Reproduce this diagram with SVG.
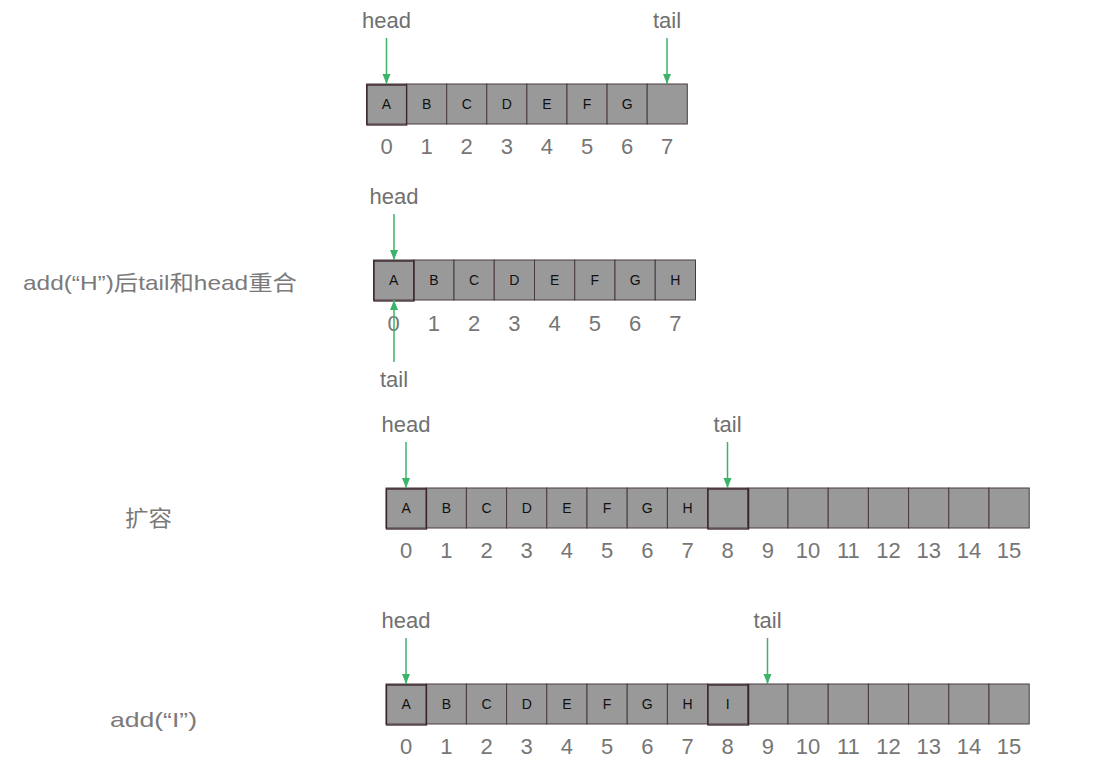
<svg xmlns="http://www.w3.org/2000/svg" width="1102" height="773" viewBox="0 0 1102 773">
<defs>
<style>
.cell{fill:#999999;stroke:#4a3a3e;stroke-width:1}
.hl{fill:none;stroke:#3a2428;stroke-width:1.3}
.ltr{font-family:"Liberation Sans",Arial,sans-serif;font-size:14px;fill:#111;text-anchor:middle}
.idx{font-family:"Liberation Sans",Arial,sans-serif;font-size:22px;fill:#767676;text-anchor:middle}
.ptr{font-family:"Liberation Sans",Arial,sans-serif;font-size:22px;fill:#707070;text-anchor:middle}
.lbl{font-family:"Liberation Sans","Noto Sans CJK SC",sans-serif;font-size:21px;fill:#7a7a7a}
.arr{stroke:#3cb36b;stroke-width:1.5;fill:none;marker-end:url(#ah)}
</style>
<marker id="ah" markerUnits="userSpaceOnUse" markerWidth="10" markerHeight="10" refX="10" refY="4" orient="auto">
<path d="M0,0 L10,4 L0,8 z" fill="#3cb36b"/>
</marker>
</defs>
<rect width="1102" height="773" fill="#ffffff"/>

<g id="row1">
<g id="row1-cells">
<rect class="cell" x="366.5" y="84" width="40.1" height="40"/>
<rect class="cell" x="406.6" y="84" width="40.1" height="40"/>
<rect class="cell" x="446.7" y="84" width="40.1" height="40"/>
<rect class="cell" x="486.8" y="84" width="40.1" height="40"/>
<rect class="cell" x="526.9" y="84" width="40.1" height="40"/>
<rect class="cell" x="567.0" y="84" width="40.1" height="40"/>
<rect class="cell" x="607.1" y="84" width="40.1" height="40"/>
<rect class="cell" x="647.2" y="84" width="40.1" height="40"/>
<rect class="hl" x="367" y="85" width="39.6" height="40"/>
</g>
<g id="row1-letters">
<text class="ltr" x="386.5" y="109">A</text>
<text class="ltr" x="426.6" y="109">B</text>
<text class="ltr" x="466.7" y="109">C</text>
<text class="ltr" x="506.8" y="109">D</text>
<text class="ltr" x="546.9" y="109">E</text>
<text class="ltr" x="587.0" y="109">F</text>
<text class="ltr" x="627.1" y="109">G</text>
</g>
<g id="row1-index">
<text class="idx" x="386.5" y="154">0</text>
<text class="idx" x="426.6" y="154">1</text>
<text class="idx" x="466.7" y="154">2</text>
<text class="idx" x="506.8" y="154">3</text>
<text class="idx" x="546.9" y="154">4</text>
<text class="idx" x="587.0" y="154">5</text>
<text class="idx" x="627.1" y="154">6</text>
<text class="idx" x="667.2" y="154">7</text>
</g>
<text id="row1-head" class="ptr" x="386.5" y="28">head</text>
<text id="row1-tail" class="ptr" x="667" y="28">tail</text>
</g>

<g id="row2">
<text id="row2-label" class="lbl" x="23" y="290" textLength="274" lengthAdjust="spacingAndGlyphs">add(“H”)后tail和head重合</text>
<g id="row2-cells">
<rect class="cell" x="373.5" y="260" width="40.25" height="40"/>
<rect class="cell" x="413.75" y="260" width="40.25" height="40"/>
<rect class="cell" x="454" y="260" width="40.25" height="40"/>
<rect class="cell" x="494.25" y="260" width="40.25" height="40"/>
<rect class="cell" x="534.5" y="260" width="40.25" height="40"/>
<rect class="cell" x="574.75" y="260" width="40.25" height="40"/>
<rect class="cell" x="615" y="260" width="40.25" height="40"/>
<rect class="cell" x="655.25" y="260" width="40.25" height="40"/>
<rect class="hl" x="374" y="261" width="40" height="40"/>
</g>
<g id="row2-letters">
<text class="ltr" x="393.6" y="285">A</text>
<text class="ltr" x="433.9" y="285">B</text>
<text class="ltr" x="474.1" y="285">C</text>
<text class="ltr" x="514.4" y="285">D</text>
<text class="ltr" x="554.6" y="285">E</text>
<text class="ltr" x="594.9" y="285">F</text>
<text class="ltr" x="635.1" y="285">G</text>
<text class="ltr" x="675.4" y="285">H</text>
</g>
<g id="row2-index">
<text class="idx" x="393.6" y="331">0</text>
<text class="idx" x="433.9" y="331">1</text>
<text class="idx" x="474.1" y="331">2</text>
<text class="idx" x="514.4" y="331">3</text>
<text class="idx" x="554.6" y="331">4</text>
<text class="idx" x="594.9" y="331">5</text>
<text class="idx" x="635.1" y="331">6</text>
<text class="idx" x="675.4" y="331">7</text>
</g>
<text id="row2-head" class="ptr" x="394" y="204">head</text>
<text id="row2-tail" class="ptr" x="394" y="387">tail</text>
</g>

<g id="row3">
<text id="row3-label" class="lbl" x="125" y="526" style="font-size:22px" textLength="47" lengthAdjust="spacingAndGlyphs">扩容</text>
<g id="row3-cells">
<rect class="cell" x="386" y="488" width="40.2" height="40"/>
<rect class="cell" x="426.2" y="488" width="40.2" height="40"/>
<rect class="cell" x="466.4" y="488" width="40.2" height="40"/>
<rect class="cell" x="506.6" y="488" width="40.2" height="40"/>
<rect class="cell" x="546.8" y="488" width="40.2" height="40"/>
<rect class="cell" x="587" y="488" width="40.2" height="40"/>
<rect class="cell" x="627.2" y="488" width="40.2" height="40"/>
<rect class="cell" x="667.4" y="488" width="40.2" height="40"/>
<rect class="cell" x="707.6" y="488" width="40.2" height="40"/>
<rect class="cell" x="747.8" y="488" width="40.2" height="40"/>
<rect class="cell" x="788" y="488" width="40.2" height="40"/>
<rect class="cell" x="828.2" y="488" width="40.2" height="40"/>
<rect class="cell" x="868.4" y="488" width="40.2" height="40"/>
<rect class="cell" x="908.6" y="488" width="40.2" height="40"/>
<rect class="cell" x="948.8" y="488" width="40.2" height="40"/>
<rect class="cell" x="989" y="488" width="40.2" height="40"/>
<rect class="hl" x="386.5" y="489" width="40" height="40"/>
<rect class="hl" x="708" y="489" width="40.6" height="40"/>
</g>
<g id="row3-letters">
<text class="ltr" x="406.1" y="513">A</text>
<text class="ltr" x="446.3" y="513">B</text>
<text class="ltr" x="486.5" y="513">C</text>
<text class="ltr" x="526.7" y="513">D</text>
<text class="ltr" x="566.9" y="513">E</text>
<text class="ltr" x="607.1" y="513">F</text>
<text class="ltr" x="647.3" y="513">G</text>
<text class="ltr" x="687.5" y="513">H</text>
</g>
<g id="row3-index">
<text class="idx" x="406.1" y="558">0</text>
<text class="idx" x="446.3" y="558">1</text>
<text class="idx" x="486.5" y="558">2</text>
<text class="idx" x="526.7" y="558">3</text>
<text class="idx" x="566.9" y="558">4</text>
<text class="idx" x="607.1" y="558">5</text>
<text class="idx" x="647.3" y="558">6</text>
<text class="idx" x="687.5" y="558">7</text>
<text class="idx" x="727.7" y="558">8</text>
<text class="idx" x="767.9" y="558">9</text>
<text class="idx" x="808.1" y="558">10</text>
<text class="idx" x="848.3" y="558">11</text>
<text class="idx" x="888.5" y="558">12</text>
<text class="idx" x="928.7" y="558">13</text>
<text class="idx" x="968.9" y="558">14</text>
<text class="idx" x="1009.1" y="558">15</text>
</g>
<text id="row3-head" class="ptr" x="406" y="432">head</text>
<text id="row3-tail" class="ptr" x="727.5" y="432">tail</text>
</g>

<g id="row4">
<text id="row4-label" class="lbl" x="110" y="727" textLength="87" lengthAdjust="spacingAndGlyphs">add(“I”)</text>
<g id="row4-cells">
<rect class="cell" x="386" y="684" width="40.2" height="40"/>
<rect class="cell" x="426.2" y="684" width="40.2" height="40"/>
<rect class="cell" x="466.4" y="684" width="40.2" height="40"/>
<rect class="cell" x="506.6" y="684" width="40.2" height="40"/>
<rect class="cell" x="546.8" y="684" width="40.2" height="40"/>
<rect class="cell" x="587" y="684" width="40.2" height="40"/>
<rect class="cell" x="627.2" y="684" width="40.2" height="40"/>
<rect class="cell" x="667.4" y="684" width="40.2" height="40"/>
<rect class="cell" x="707.6" y="684" width="40.2" height="40"/>
<rect class="cell" x="747.8" y="684" width="40.2" height="40"/>
<rect class="cell" x="788" y="684" width="40.2" height="40"/>
<rect class="cell" x="828.2" y="684" width="40.2" height="40"/>
<rect class="cell" x="868.4" y="684" width="40.2" height="40"/>
<rect class="cell" x="908.6" y="684" width="40.2" height="40"/>
<rect class="cell" x="948.8" y="684" width="40.2" height="40"/>
<rect class="cell" x="989" y="684" width="40.2" height="40"/>
<rect class="hl" x="386.5" y="685" width="40" height="40"/>
<rect class="hl" x="708" y="685" width="40.6" height="40"/>
</g>
<g id="row4-letters">
<text class="ltr" x="406.1" y="709">A</text>
<text class="ltr" x="446.3" y="709">B</text>
<text class="ltr" x="486.5" y="709">C</text>
<text class="ltr" x="526.7" y="709">D</text>
<text class="ltr" x="566.9" y="709">E</text>
<text class="ltr" x="607.1" y="709">F</text>
<text class="ltr" x="647.3" y="709">G</text>
<text class="ltr" x="687.5" y="709">H</text>
<text class="ltr" x="727.7" y="709">I</text>
</g>
<g id="row4-index">
<text class="idx" x="406.1" y="754">0</text>
<text class="idx" x="446.3" y="754">1</text>
<text class="idx" x="486.5" y="754">2</text>
<text class="idx" x="526.7" y="754">3</text>
<text class="idx" x="566.9" y="754">4</text>
<text class="idx" x="607.1" y="754">5</text>
<text class="idx" x="647.3" y="754">6</text>
<text class="idx" x="687.5" y="754">7</text>
<text class="idx" x="727.7" y="754">8</text>
<text class="idx" x="767.9" y="754">9</text>
<text class="idx" x="808.1" y="754">10</text>
<text class="idx" x="848.3" y="754">11</text>
<text class="idx" x="888.5" y="754">12</text>
<text class="idx" x="928.7" y="754">13</text>
<text class="idx" x="968.9" y="754">14</text>
<text class="idx" x="1009.1" y="754">15</text>
</g>
<text id="row4-head" class="ptr" x="406" y="628">head</text>
<text id="row4-tail" class="ptr" x="767.5" y="628">tail</text>
</g>

<g id="connectors">
<line class="arr" x1="386.5" y1="38" x2="386.5" y2="84"/>
<line class="arr" x1="667" y1="38" x2="667" y2="84"/>
<line class="arr" x1="394" y1="214" x2="394" y2="260"/>
<line class="arr" x1="394" y1="362" x2="394" y2="300"/>
<line class="arr" x1="406" y1="442" x2="406" y2="488"/>
<line class="arr" x1="727.5" y1="442" x2="727.5" y2="488"/>
<line class="arr" x1="406" y1="638" x2="406" y2="684"/>
<line class="arr" x1="767.5" y1="638" x2="767.5" y2="684"/>
</g>
</svg>
